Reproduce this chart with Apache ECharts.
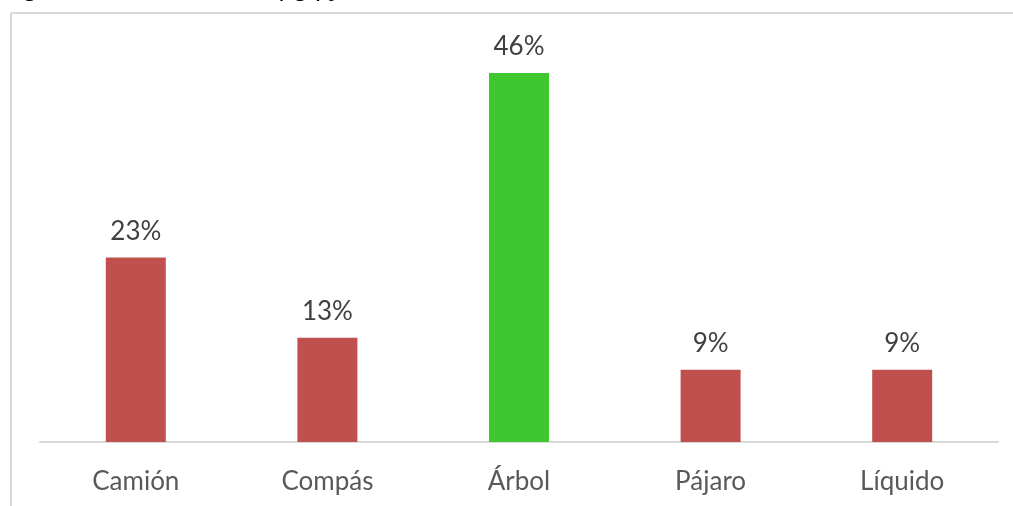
<!DOCTYPE html>
<html>
<head>
<meta charset="utf-8">
<script src="https://cdn.jsdelivr.net/npm/echarts@6/dist/echarts.min.js"></script>
<style>
  html, body { margin: 0; padding: 0; background: #fff; }
  #chart { width: 1013px; height: 506px; }
</style>
</head>
<body>
<div id="chart"></div>
<script>
var categories = ['Camión', 'Compás', 'Árbol', 'Pájaro', 'Líquido'];
var values = [23, 13, 46, 9, 9];
var barColors = ['#C0504D', '#C0504D', '#3FC72F', '#C0504D', '#C0504D'];

var myChart = echarts.init(document.getElementById('chart'));

var option = {
    backgroundColor: '#fff',
    animation: false,
    graphic: [
        // cut-off caption above the chart frame
        { type: 'text', left: 0, top: -26, style: { text: 'Figuras de ubicación de fig fijas', font: 'italic 28px "Liberation Serif"', fill: '#000' } },
        // chart frame (left + top edges)
        { type: 'line', shape: { x1: 11, y1: 13, x2: 1013, y2: 13 }, style: { stroke: '#d9d9d9', lineWidth: 2 } },
        { type: 'line', shape: { x1: 11, y1: 13, x2: 11, y2: 506 }, style: { stroke: '#d9d9d9', lineWidth: 2 } }
    ],
    grid: { left: 40, right: 15, top: 41, bottom: 64 },
    xAxis: {
        type: 'category',
        data: categories,
        axisTick: { show: false },
        axisLine: { lineStyle: { color: '#d9d9d9', width: 2 } },
        axisLabel: { color: '#595959', fontSize: 26, fontFamily: 'Lato', margin: 27 }
    },
    yAxis: {
        type: 'value',
        min: 0,
        max: 50,
        show: false,
        splitLine: { show: false }
    },
    series: [{
        type: 'bar',
        barWidth: 60,
        data: values.map(function (v, i) {
            return { value: v, itemStyle: { color: barColors[i] } };
        }),
        label: {
            show: true,
            position: 'top',
            distance: 13,
            formatter: '{c}%',
            color: '#404040',
            fontSize: 26,
            fontFamily: 'Lato'
        }
    }]
};
myChart.setOption(option);
</script>
</body>
</html>
